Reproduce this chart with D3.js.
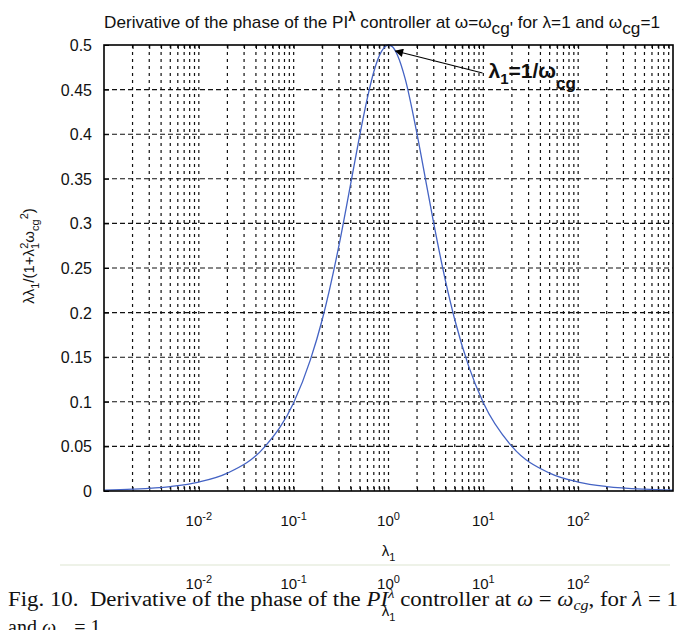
<!DOCTYPE html>
<html>
<head>
<meta charset="utf-8">
<script src="https://cdn.jsdelivr.net/npm/d3@7"></script>
<style>
  body { margin: 0; background: #fff; }
  svg { display: block; }
  .lbl { font-family: "Liberation Sans", Arial, sans-serif; fill: #111; }
  .cap { font-family: "Liberation Serif", "Times New Roman", serif; fill: #111; white-space: pre; }
</style>
</head>
<body>
<svg id="chart" width="681" height="630"></svg>
<script>
// values
const lambdaVals = [0.001, 0.002, 0.005, 0.01, 0.02, 0.05, 0.1, 0.15, 0.2, 0.3, 0.4, 0.5, 0.6, 0.7, 0.8, 0.9, 1,
    1.1, 1.25, 1.5, 2, 2.5, 3, 4, 5, 7, 10, 20, 50, 100, 200, 500, 1000];
const phaseDeriv = [0.001, 0.002, 0.005, 0.01, 0.02, 0.05, 0.099, 0.147, 0.192, 0.275, 0.345, 0.40, 0.441, 0.47, 0.488, 0.497, 0.5,
    0.498, 0.488, 0.462, 0.40, 0.345, 0.30, 0.235, 0.192, 0.14, 0.099, 0.05, 0.02, 0.01, 0.005, 0.002, 0.001];

const xTicks = [1e-2, 1e-1, 1e0, 1e1, 1e2];
const xTickExp = ["-2", "-1", "0", "1", "2"];
const yTicks = [0, 0.05, 0.1, 0.15, 0.2, 0.25, 0.3, 0.35, 0.4, 0.45, 0.5];
const peak = [1, 0.5];

const margin = {top: 45, right: 8, bottom: 139, left: 104};
const W = 681 - margin.left - margin.right;
const H = 630 - margin.top - margin.bottom;

const svg = d3.select("#chart");
const g = svg.append("g").attr("transform", `translate(${margin.left},${margin.top})`);

const x = d3.scaleLog().domain([1e-3, 1e3]).range([0, W]);
const y = d3.scaleLinear().domain([0, 0.5]).range([H, 0]);

// minor + major vertical grid (2..10 x 10^k)
let vGrid = [];
for (let k = -3; k < 3; k++) {
    for (let m = 2; m <= 10; m++) {
        let v = m * Math.pow(10, k);
        if (v < 1e3) vGrid.push(v);
    }
}
g.append("g").selectAll("line").data(vGrid).enter().append("line")
    .attr("x1", d => x(d)).attr("x2", d => x(d))
    .attr("y1", 0).attr("y2", H)
    .attr("stroke", "#111").attr("stroke-width", 1.2)
    .attr("stroke-dasharray", "3,4");

// horizontal dashed grid
g.append("g").selectAll("line").data(yTicks.slice(1, -1)).enter().append("line")
    .attr("x1", 0).attr("x2", W)
    .attr("y1", d => y(d)).attr("y2", d => y(d))
    .attr("stroke", "#111").attr("stroke-width", 1.1)
    .attr("stroke-dasharray", "5,3");

// axes (ticks inside, labels drawn separately)
g.append("g").attr("transform", `translate(0,${H})`)
    .call(d3.axisBottom(x).tickValues(vGrid).tickSizeInner(-4).tickSizeOuter(0).tickFormat(""))
    .call(a => a.select(".domain").remove());
g.append("g")
    .call(d3.axisTop(x).tickValues(vGrid).tickSizeInner(-4).tickSizeOuter(0).tickFormat(""))
    .call(a => a.select(".domain").remove());
g.append("g")
    .call(d3.axisLeft(y).tickValues(yTicks).tickSizeInner(-5).tickSizeOuter(0).tickFormat(""))
    .call(a => a.select(".domain").remove());

// curve
const line = d3.line()
    .x((d, i) => x(lambdaVals[i]))
    .y(d => y(d))
    .curve(d3.curveMonotoneX);
g.append("path").datum(phaseDeriv)
    .attr("d", line)
    .attr("fill", "none")
    .attr("stroke", "#4463c4")
    .attr("stroke-width", 1.3);

// frame
g.append("rect").attr("width", W).attr("height", H)
    .attr("fill", "none").attr("stroke", "#000").attr("stroke-width", 1.6);

// y tick labels
g.append("g").selectAll("text").data(yTicks).enter().append("text")
    .attr("class", "lbl")
    .attr("x", -12).attr("y", d => y(d) + 6)
    .attr("text-anchor", "end")
    .attr("font-size", 16)
    .text(d => d3.format("")(d));

// x tick labels 10^k
function drawXLabels(yy) {
    let t = g.append("g").selectAll("text").data(xTicks).enter().append("text")
        .attr("class", "lbl")
        .attr("x", d => x(d)).attr("y", yy)
        .attr("text-anchor", "middle")
        .attr("font-size", 15);
    t.append("tspan").text("10");
    t.append("tspan").attr("dy", -6).attr("font-size", 11).text((d, i) => xTickExp[i]);
}
drawXLabels(H + 35);

// x label
function drawLambda1(xx, yy) {
    let t = g.append("text").attr("class", "lbl")
        .attr("x", xx).attr("y", yy).attr("text-anchor", "middle").attr("font-size", 15);
    t.append("tspan").text("λ");
    t.append("tspan").attr("dy", 5).attr("font-size", 11).text("1");
}
drawLambda1(x(1), H + 65);

// y label
let yl = g.append("text").attr("class", "lbl")
    .attr("transform", `translate(${-70},${H / 2 - 12}) rotate(-90)`)
    .attr("text-anchor", "middle").attr("font-size", 15);
yl.append("tspan").text("λλ");
yl.append("tspan").attr("dy", 5).attr("font-size", 11).text("1");
yl.append("tspan").attr("dy", -5).text("/(1+λ");
yl.append("tspan").attr("dy", 5).attr("font-size", 11).text("1");
yl.append("tspan").attr("dx", -6).attr("dy", -11).attr("font-size", 11).text("2");
yl.append("tspan").attr("dy", 6).text("ω");
yl.append("tspan").attr("dy", 5).attr("font-size", 11).text("cg");
yl.append("tspan").attr("dy", -11).attr("font-size", 11).text("2");
yl.append("tspan").attr("dy", 6).text(")");

// title
let tt = svg.append("text").attr("class", "lbl")
    .attr("x", margin.left).attr("y", 28)
    .attr("font-size", 17)
    .attr("textLength", 556).attr("lengthAdjust", "spacingAndGlyphs");
tt.append("tspan").text("Derivative of the phase of the PI");
tt.append("tspan").attr("dy", -7).attr("font-size", 13).attr("font-weight", "bold").text("λ");
tt.append("tspan").attr("dy", 7).text(" controller at ω=ω");
tt.append("tspan").attr("dy", 6).text("cg'");
tt.append("tspan").attr("dy", -6).text(" for λ=1 and ω");
tt.append("tspan").attr("dy", 6).text("cg");
tt.append("tspan").attr("dy", -6).text("=1");

// annotation with arrow
svg.append("defs").append("marker")
    .attr("id", "ah").attr("viewBox", "0 0 10 10").attr("refX", 9).attr("refY", 5)
    .attr("markerWidth", 9).attr("markerHeight", 7).attr("orient", "auto")
    .append("path").attr("d", "M0,0L10,5L0,10z").attr("fill", "#000");
const ax = x(peak[0]), ay = y(peak[1]);
g.append("line")
    .attr("x1", ax + 94).attr("y1", ay + 28)
    .attr("x2", ax + 7).attr("y2", ay + 6)
    .attr("stroke", "#000").attr("stroke-width", 1.2)
    .attr("marker-end", "url(#ah)");
let an = g.append("text").attr("class", "lbl")
    .attr("x", ax + 100).attr("y", ay + 33)
    .attr("font-size", 21).attr("font-weight", "bold");
an.append("tspan").text("λ");
an.append("tspan").attr("dy", 6).attr("font-size", 15).text("1");
an.append("tspan").attr("dy", -6).text("=1/ω");
an.append("tspan").attr("dy", 11).attr("font-size", 17).text("cg");

// scan artifacts below the figure: faint rule, repeated labels
svg.append("line").attr("x1", 60).attr("x2", 670).attr("y1", 565).attr("y2", 565)
    .attr("stroke", "#eef2e8").attr("stroke-width", 2);
drawXLabels(H + 98);
drawLambda1(x(1), H + 125);

// caption
let cp = svg.append("text").attr("class", "cap")
    .attr("x", 8).attr("y", 606).attr("font-size", 20)
    .attr("textLength", 670).attr("lengthAdjust", "spacingAndGlyphs");
cp.append("tspan").text("Fig. 10.  Derivative of the phase of the ");
cp.append("tspan").attr("font-style", "italic").text("PI");
cp.append("tspan").attr("dy", -8).attr("font-size", 13).attr("font-style", "italic").text("λ");
cp.append("tspan").attr("dy", 8).text(" controller at ");
cp.append("tspan").attr("font-style", "italic").text("ω");
cp.append("tspan").text(" = ");
cp.append("tspan").attr("font-style", "italic").text("ω");
cp.append("tspan").attr("dy", 4).attr("font-size", 14).attr("font-style", "italic").text("cg");
cp.append("tspan").attr("dy", -4).text(", for ");
cp.append("tspan").attr("font-style", "italic").text("λ");
cp.append("tspan").text(" = 1");

let cp2 = svg.append("text").attr("class", "cap")
    .attr("x", 8).attr("y", 634).attr("font-size", 20);
cp2.append("tspan").text("and ");
cp2.append("tspan").attr("font-style", "italic").text("ω");
cp2.append("tspan").attr("dy", 4).attr("font-size", 14).attr("font-style", "italic").text("cg");
cp2.append("tspan").attr("dy", -4).text(" = 1");
</script>
</body>
</html>
